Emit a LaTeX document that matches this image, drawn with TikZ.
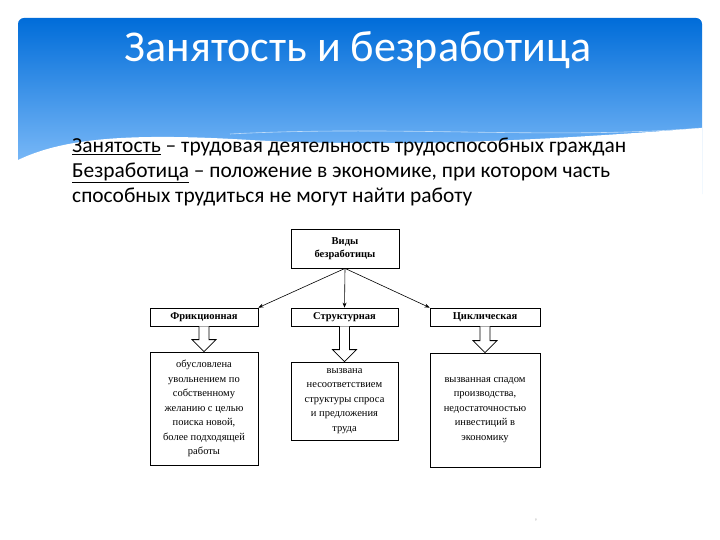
\documentclass[tikz,border=0pt]{standalone}
\usepackage{fontspec}
\setmainfont{Carlito}
\newfontfamily\dserif{Liberation Serif}
\usetikzlibrary{arrows.meta,calc}
\begin{document}
\begin{tikzpicture}[x=1pt,y=-1pt,
  hdr/.style={draw,line width=0.8pt,fill=white,font=\dserif\bfseries\fontsize{10.5}{13}\selectfont,align=center,inner sep=1pt},
  desc/.style={draw,line width=0.8pt,fill=white,font=\dserif\fontsize{10.5}{14.5}\selectfont,align=center,inner sep=2pt},
  conn/.style={-{Stealth[length=5pt,width=4pt]},line width=0.6pt},
  hol/.style={draw,line width=0.8pt,fill=white}]
\useasboundingbox (0,0) rectangle (720,540);
\fill[white] (0,0) rectangle (720,540);
\shade[top color=blue!50!cyan!85!black,bottom color=cyan!50!blue!40,rounded corners=6pt] (18,18) rectangle (702,200);
\fill[white] (18,160) .. controls (60,140) and (120,132) .. (250,140) .. controls (400,148) and (550,140) .. (702,128) -- (702,205) -- (18,205) -- cycle;
\draw[white,opacity=0.6,line width=0.6pt] (230,134) .. controls (400,125) and (550,140) .. (702,128);
\node[text=white,font=\fontsize{44}{48}\selectfont] (title) at (358,50) {Занятость и безработица};
\node[anchor=north west,font=\fontsize{21.4}{25}\selectfont,align=left,inner sep=0] (def) at (72,138) {\underline{Занятость} -- трудовая деятельность трудоспособных граждан\\\underline{Безработица} -- положение в экономике, при котором часть\\способных трудиться не могут найти работу};
\node[hdr,minimum width=108pt,minimum height=39pt] (top) at (345,248.5) {Виды\\безработицы};
\node[hdr,minimum width=108pt,minimum height=18pt] (f) at (204,317) {Фрикционная};
\node[hdr,minimum width=107pt,minimum height=18pt] (s) at (344.5,317) {Структурная};
\node[hdr,minimum width=110pt,minimum height=18pt] (c) at (485,317) {Циклическая};
\node[desc,minimum width=108pt,minimum height=113pt] (fd) at (204,408.5) {обусловлена\\увольнением по\\собственному\\желанию с целью\\поиска новой,\\более подходящей\\работы};
\node[desc,minimum width=107pt,minimum height=78pt] (sd) at (344.5,401) {вызвана\\несоответствием\\структуры спроса\\и предложения\\труда};
\node[desc,minimum width=110pt,minimum height=114pt] (cd) at (485,410) {вызванная спадом\\производства,\\недостаточностью\\инвестиций в\\экономику};
\draw[conn] (top.south) -- (f.north east);
\draw[conn] (top.south) -- (s.north);
\draw[conn] (top.south) -- (c.north west);
\foreach \n/\m in {f/fd,s/sd,c/cd}{
  \path (\n.south) coordinate (a) (\m.north) coordinate (b);
  \draw[hol] ($(a)+(-5,0)$) -- ($(b)+(-5,-12)$) -- ($(b)+(-12,-12)$) -- (b) -- ($(b)+(12,-12)$) -- ($(b)+(5,-12)$) -- ($(a)+(5,0)$);
}
\node[text=gray!60,font=\fontsize{4}{5}\selectfont] (pg) at (536,520) {9};
\end{tikzpicture}
\end{document}
